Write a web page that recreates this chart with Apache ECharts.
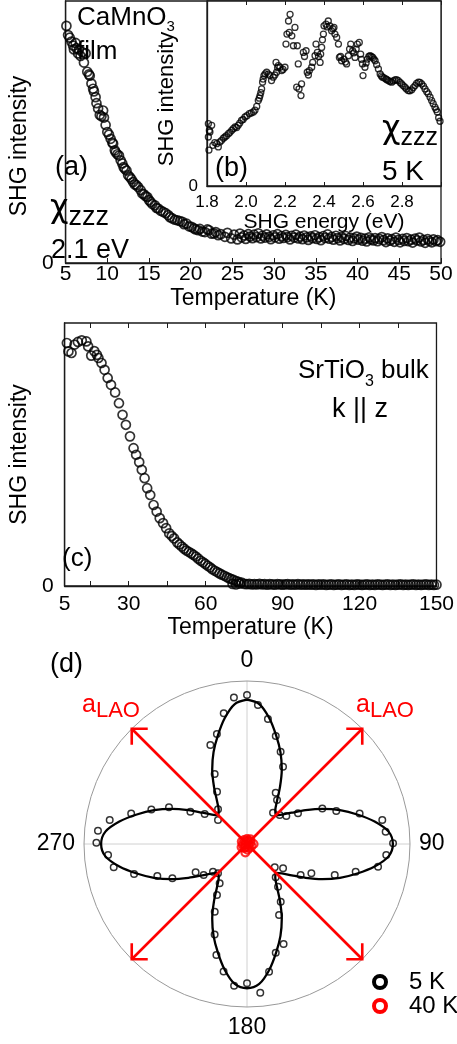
<!DOCTYPE html>
<html>
<head>
<meta charset="utf-8">
<script src="https://cdn.jsdelivr.net/npm/echarts@6.0.0/dist/echarts.min.js"></script>
<style>html,body{margin:0;padding:0;background:#fff}#c{width:457px;height:1044px}</style>
</head>
<body>
<div id="c"></div>
<script>
// ---------- DATA ----------
// (a) CaMnO3 film, SHG intensity vs temperature (K)
const aData = [
[5.1,0.905],[5.3,0.87],[5.5,0.86],[5.7,0.845],[5.9,0.83],[6.0,0.815],[6.2,0.84],[6.3,0.82],[6.5,0.80],[6.6,0.815],
[6.8,0.79],[7.0,0.805],[7.2,0.765],[7.4,0.80],[7.6,0.73],[7.8,0.72],[7.9,0.715],[8.1,0.685],[8.3,0.665],[8.4,0.655],
[8.6,0.633],[8.7,0.61],[8.9,0.59],[9.1,0.565],[9.3,0.56],[9.5,0.582],[9.6,0.555],[9.8,0.527],[10.0,0.50],[10.2,0.49],
[10.4,0.474],[10.6,0.46],[10.7,0.455],[10.9,0.43],[11.0,0.423],[11.2,0.415],[11.4,0.41],[11.6,0.392],[11.8,0.38],[11.95,0.366],
[12.1,0.36],[12.3,0.353],[12.5,0.335],[12.7,0.328],[12.9,0.32],[13.1,0.309],[13.3,0.30],[13.5,0.297],[13.7,0.29],[14.0,0.278],
[14.2,0.265],[14.4,0.262],[14.6,0.255],[14.8,0.252],[15.0,0.24],[15.2,0.233],[15.4,0.225],[15.7,0.22],[15.9,0.21],[16.1,0.208],
[16.4,0.20],[16.7,0.195],[17.0,0.19],[17.3,0.183],[17.5,0.175],[17.8,0.17],[18.1,0.165],[18.4,0.163],[18.7,0.16],[19.0,0.157],
[19.2,0.148],[19.5,0.15],[19.8,0.14],[20.1,0.138],[20.4,0.132],[20.6,0.128],[20.9,0.125],[21.1,0.13],[21.4,0.12],[21.7,0.118],
[22.0,0.128],[22.2,0.125],[22.5,0.112],[22.8,0.113],[23.0,0.118],[23.3,0.106],[23.6,0.11],[24.1,0.10],[24.4,0.115],[24.85,0.094],
[25.2,0.108],[25.6,0.09],[25.9,0.112],[26.1,0.098],[26.4,0.105],[26.6,0.092],[26.9,0.110],[27.1,0.101],[27.4,0.095],[27.6,0.108],
[27.9,0.099],[28.1,0.113],[28.4,0.094],[28.6,0.104],[28.9,0.097],[29.1,0.109],[29.4,0.100],[29.6,0.091],[29.9,0.106],[30.1,0.098],
[30.4,0.110],[30.6,0.093],[30.9,0.103],[31.1,0.096],[31.4,0.107],[31.6,0.099],[31.9,0.090],[32.1,0.104],[32.4,0.097],[32.6,0.108],
[32.9,0.094],[33.1,0.101],[33.4,0.091],[33.6,0.105],[33.9,0.098],[34.1,0.088],[34.4,0.102],[34.6,0.095],[34.9,0.106],[35.1,0.092],
[35.4,0.099],[35.6,0.087],[35.9,0.103],[36.1,0.096],[36.4,0.109],[36.6,0.093],[36.9,0.100],[37.1,0.089],[37.4,0.104],[37.6,0.095],
[37.9,0.086],[38.1,0.099],[38.4,0.092],[38.6,0.103],[38.9,0.088],[39.1,0.097],[39.4,0.084],[39.6,0.094],[39.9,0.101],[40.1,0.089],
[40.4,0.096],[40.6,0.085],[40.9,0.093],[41.1,0.082],[41.4,0.098],[41.6,0.090],[41.9,0.086],[42.1,0.095],[42.4,0.083],[42.6,0.092],
[42.9,0.099],[43.1,0.087],[43.4,0.080],[43.6,0.094],[43.9,0.085],[44.1,0.091],[44.4,0.081],[44.6,0.097],[44.9,0.088],[45.1,0.079],
[45.4,0.092],[45.6,0.084],[45.9,0.095],[46.1,0.083],[46.4,0.089],[46.6,0.078],[46.9,0.093],[47.1,0.086],[47.4,0.097],[47.6,0.082],
[47.9,0.088],[48.1,0.077],[48.4,0.091],[48.6,0.084],[48.9,0.079],[49.1,0.090],[49.4,0.083],[49.6,0.087],[49.9,0.081]
];
// (b) inset, SHG intensity vs SHG energy (eV) at 5 K
const bData = [
[1.807,0.337],[1.812,0.30],[1.807,0.265],[1.815,0.292],[1.824,0.328],[1.81,0.194],[1.83,0.22],[1.84,0.235],[1.85,0.229],[1.858,0.211],
[1.866,0.238],[1.875,0.247],[1.884,0.258],[1.892,0.265],[1.90,0.272],[1.91,0.283],[1.918,0.29],[1.927,0.301],[1.935,0.31],[1.944,0.319],
[1.952,0.316],[1.96,0.328],[1.968,0.34],[1.977,0.355],[1.985,0.36],[1.995,0.373],[2.005,0.38],[2.017,0.391],[2.027,0.395],[2.038,0.40],
[2.046,0.41],[2.055,0.43],[2.063,0.462],[2.068,0.475],[2.072,0.489],[2.076,0.505],[2.08,0.525],[2.085,0.561],[2.088,0.578],[2.092,0.597],
[2.098,0.606],[2.106,0.615],[2.115,0.605],[2.123,0.597],[2.131,0.57],[2.14,0.588],[2.148,0.60],[2.154,0.668],[2.157,0.615],[2.162,0.64],
[2.166,0.651],[2.174,0.642],[2.183,0.624],[2.19,0.63],[2.2,0.642],[2.205,0.767],[2.21,0.821],[2.218,0.892],[2.222,0.83],[2.226,0.928],
[2.235,0.812],[2.243,0.758],[2.251,0.857],[2.263,0.758],[2.268,0.66],[2.26,0.534],[2.272,0.525],[2.282,0.489],[2.285,0.552],[2.294,0.722],
[2.30,0.70],[2.308,0.731],[2.314,0.615],[2.32,0.60],[2.325,0.624],[2.337,0.642],[2.342,0.668],[2.354,0.704],[2.359,0.767],[2.366,0.722],
[2.372,0.70],[2.38,0.668],[2.383,0.713],[2.388,0.749],[2.392,0.79],[2.397,0.821],[2.40,0.866],[2.41,0.875],[2.416,0.86],[2.422,0.892],
[2.43,0.866],[2.439,0.839],[2.445,0.85],[2.451,0.857],[2.456,0.821],[2.465,0.803],[2.474,0.767],[2.479,0.695],[2.485,0.70],[2.49,0.677],
[2.502,0.686],[2.51,0.67],[2.516,0.66],[2.525,0.704],[2.531,0.74],[2.537,0.767],[2.547,0.731],[2.553,0.72],[2.559,0.695],[2.565,0.74],
[2.571,0.767],[2.581,0.776],[2.588,0.713],[2.592,0.685],[2.597,0.66],[2.60,0.597],[2.61,0.642],[2.616,0.665],[2.622,0.686],[2.63,0.70],
[2.636,0.704],[2.643,0.70],[2.65,0.695],[2.656,0.686],[2.662,0.677],[2.67,0.656],[2.679,0.633],[2.688,0.606],[2.694,0.595],[2.70,0.588],
[2.708,0.585],[2.717,0.579],[2.723,0.575],[2.73,0.57],[2.738,0.565],[2.747,0.561],[2.755,0.568],[2.764,0.573],[2.772,0.575],[2.781,0.57],
[2.79,0.56],[2.798,0.552],[2.806,0.543],[2.815,0.534],[2.823,0.525],[2.832,0.516],[2.84,0.515],[2.85,0.52],[2.858,0.532],[2.867,0.543],
[2.875,0.555],[2.884,0.561],[2.892,0.56],[2.901,0.552],[2.91,0.54],[2.918,0.525],[2.927,0.51],[2.935,0.498],[2.944,0.48],[2.952,0.462],
[2.96,0.445],[2.969,0.426],[2.975,0.413],[2.981,0.40],[2.988,0.369],[2.995,0.35]
];
// (c) SrTiO3 bulk, SHG intensity vs temperature (K)
const cData = [
[5.9,0.924],[6.5,0.892],[7.7,0.886],[8.9,0.918],[10.2,0.928],[11.7,0.934],[13.5,0.930],[14.2,0.911],[15.4,0.876],[16.6,0.893],
[17.6,0.879],[18.2,0.867],[19.4,0.848],[20.6,0.822],[21.8,0.791],[23.1,0.765],[24.7,0.736],[26.2,0.695],[27.6,0.651],[28.9,0.613],
[30.5,0.569],[31.9,0.524],[32.9,0.499],[34.1,0.471],[35.1,0.442],[36.2,0.41],[37.2,0.372],[38.4,0.346],[39.7,0.308],[40.9,0.283],
[42.1,0.258],[43.4,0.239],[44.6,0.22],[45.8,0.2],[46.8,0.19],[47.7,0.181],[48.9,0.166],[49.8,0.158],[50.7,0.15],[51.6,0.142],
[52.5,0.135],[53.4,0.13],[54.4,0.124],[55.3,0.118],[56.2,0.112],[57.1,0.104],[58.1,0.096],[59.0,0.09],[59.9,0.084],[60.8,0.077],
[61.7,0.071],[62.6,0.064],[63.6,0.058],[64.5,0.053],[65.4,0.048],[66.3,0.043],[67.3,0.039],[68.2,0.034],[69.1,0.03],[70.0,0.026],
[70.9,0.023],[71.9,0.019],[72.8,0.016],[74.0,0.013],[70.5,0.008],[71.8,0.006],[73.2,0.009],
[75,0.008],[76,0.007],[77,0.008],[78,0.006],[79,0.007],[80,0.006],[81,0.008],[82,0.006],[83,0.007],[84,0.005],
[85,0.007],[86,0.006],[87,0.005],[88,0.007],[89,0.006],[90,0.005],[91,0.006],[92,0.007],[93,0.005],[94,0.006],
[95,0.005],[96,0.007],[97,0.005],[98,0.006],[99,0.005],[100,0.006],[101,0.005],[102,0.006],[103,0.004],[104,0.006],
[105,0.005],[106,0.006],[107,0.004],[108,0.005],[109,0.006],[110,0.004],[111,0.005],[112,0.006],[113,0.004],[114,0.005],
[115,0.006],[116,0.004],[117,0.005],[118,0.004],[119,0.006],[120,0.005],[121,0.004],[122,0.005],[123,0.006],[124,0.004],
[125,0.005],[126,0.004],[127,0.006],[128,0.005],[129,0.004],[130,0.005],[131,0.006],[132,0.004],[133,0.005],[134,0.004],
[135,0.005],[136,0.006],[137,0.004],[138,0.005],[139,0.004],[140,0.005],[141,0.006],[142,0.004],[143,0.005],[144,0.004],
[145,0.005],[146,0.006],[147,0.004],[148,0.005],[149,0.004],[150,0.005]
];
const cTickValues = [15,30,45,60,75,90,105,120,135,150];
const cLabelValues = [5,30,60,90,120,150];

// (d) polar: angle (deg) and normalized SHG for fit curve and 5 K / 40 K points
const fitAngles = [0,5,10,15,20,25,30,35,40,45,50,55,60,65,70,75,80,85,90,95,100,105,110,115,120,125,130,135,140,145,150,155,160,165,170,175,
180,185,190,195,200,205,210,215,220,225,230,235,240,245,250,255,260,265,270,275,280,285,290,295,300,305,310,315,320,325,330,335,340,345,350,355,360];
const fitR = [0.885,0.862,0.785,0.69,0.60,0.505,0.405,0.32,0.27,0.25,0.28,0.335,0.415,0.51,0.607,0.70,0.795,0.872,0.895,0.872,0.795,0.70,0.607,0.51,0.415,0.335,0.28,0.25,0.27,0.32,0.405,0.505,0.60,0.69,0.785,0.862,
0.885,0.862,0.785,0.69,0.60,0.505,0.405,0.32,0.27,0.25,0.28,0.335,0.415,0.51,0.607,0.70,0.795,0.872,0.895,0.872,0.795,0.70,0.607,0.51,0.415,0.335,0.28,0.25,0.27,0.32,0.405,0.505,0.60,0.69,0.785,0.862,0.885];
const d5K = [
[0.914,0],[0.903,354.9],[0.855,4.5],[0.814,349.9],[0.778,9.5],[0.70,344.7],[0.686,14.9],[0.648,339.7],[0.603,20.0],[0.523,25.0],
[0.473,335.2],[0.37,330.2],[0.361,29.2],[0.327,34.3],[0.277,320.1],[0.25,39.7],
[0.268,48.4],[0.296,54.6],[0.365,59],[0.511,64.7],[0.584,69.7],[0.716,74.8],[0.843,79.9],[0.854,84.9],[0.896,89.7],[0.857,94.5],
[0.816,99.8],[0.688,104.3],[0.571,109.5],[0.434,114.5],[0.38,120],[0.267,124],[0.222,130],
[0.27,139.3],[0.324,144],[0.41,149.7],[0.478,155.7],[0.653,159.9],[0.69,165.2],[0.795,170.2],[0.855,180],[0.873,185.2],[0.916,174.9],
[0.796,190.4],[0.707,195.4],[0.589,199.7],[0.46,205.5],[0.363,210.5],[0.294,214.8],[0.253,224.7],
[0.269,230.9],[0.327,234.4],[0.36,241.1],[0.504,245.3],[0.584,250.4],[0.717,255.1],[0.83,260.1],[0.855,265.5],[0.924,270.5],[0.918,275.1],
[0.855,279.9],[0.735,284.8],[0.624,289.9],[0.529,295.2],[0.40,299.7],[0.318,305.3],[0.231,309.6]
];
const d40K = [
[0.03,0],[0.02,20],[0.035,35],[0.025,60],[0.04,90],[0.03,115],[0.028,150],[0.035,175],[0.052,191],[0.02,200],
[0.03,215],[0.038,240],[0.025,265],[0.035,295],[0.03,325],[0.015,340],[0.01,100],[0.012,250]
];
const arrowDirs = [45,135,225,315];
const angleLabels = [0,90,180,270];

// ---------- CHART ----------
const FONT = '"Liberation Sans", Arial, sans-serif';
const chart = echarts.init(document.getElementById('c'), null, {renderer:'canvas'});
const axisCol = '#1a1a1a';
const onlyZero = v => (v === 0 ? '0' : '');

function txt(x, y, text, size, color, rich){
  const st = {text: text, font: size + 'px ' + FONT, fill: color || '#000', align:'left', verticalAlign:'middle'};
  if (rich) st.rich = rich;
  return {type:'text', x:x, y:y, z:100, style: st};
}
const sub = (size, pad) => ({font: size + 'px ' + FONT, padding:[pad,0,0,0], verticalAlign:'middle'});
const chiStyle = size => ({font: size + 'px "DejaVu Sans", ' + FONT, verticalAlign:'middle'});

const option = {
  animation: false,
  textStyle: {fontFamily: FONT},
  grid: [
    {left:46, top:1, width:395, height:262, show:true, borderColor:axisCol, borderWidth:1.3, backgroundColor:'transparent'},
    {left:207, top:1, width:234, height:185, show:true, borderColor:axisCol, borderWidth:1.3, backgroundColor:'#fff'},
    {left:46, top:323, width:395, height:263, show:true, borderColor:axisCol, borderWidth:1.3, backgroundColor:'transparent'}
  ],
  xAxis: [
    {gridIndex:0, type:'value', min:5, max:50, interval:5,
     axisLine:{lineStyle:{color:axisCol, width:1.3}}, axisTick:{inside:true, length:5, lineStyle:{color:axisCol}},
     axisLabel:{fontSize:21, color:'#000', margin:1}, splitLine:{show:false},
     name:'Temperature (K)', nameLocation:'middle', nameGap:24, nameTextStyle:{fontSize:23, color:'#000'}},
    {gridIndex:1, type:'value', min:1.8, max:3.0, interval:0.2,
     axisLine:{lineStyle:{color:axisCol, width:1.3}}, axisTick:{inside:true, length:4, lineStyle:{color:axisCol}},
     axisLabel:{fontSize:17, color:'#000', margin:8, formatter: v => (Math.abs(v-3) < 1e-6 ? '' : v.toFixed(1))},
     splitLine:{show:false},
     name:'SHG energy (eV)', nameLocation:'middle', nameGap:22, nameTextStyle:{fontSize:21, color:'#000'}},
    {gridIndex:1, type:'value', position:'top', min:1.8, max:3.0, interval:0.2,
     axisLine:{show:false}, axisTick:{inside:true, length:4, lineStyle:{color:axisCol}},
     axisLabel:{show:false}, splitLine:{show:false}},
    {gridIndex:2, type:'value', min:5, max:150,
     axisLine:{lineStyle:{color:axisCol, width:1.3}},
     axisTick:{inside:true, length:5, customValues:cTickValues, lineStyle:{color:axisCol}},
     axisLabel:{fontSize:21, color:'#000', margin:8, customValues:cLabelValues}, splitLine:{show:false},
     name:'Temperature (K)', nameLocation:'middle', nameGap:26, nameTextStyle:{fontSize:23, color:'#000'}},
    {gridIndex:2, type:'value', position:'top', min:5, max:150,
     axisLine:{show:false},
     axisTick:{inside:true, length:5, customValues:cTickValues, lineStyle:{color:axisCol}},
     axisLabel:{show:false}, splitLine:{show:false}}
  ],
  yAxis: [
    {gridIndex:0, type:'value', min:0, max:1, interval:1,
     axisLine:{lineStyle:{color:axisCol, width:1.3}}, axisTick:{show:false},
     axisLabel:{fontSize:21, color:'#000', margin:12, formatter:onlyZero}, splitLine:{show:false},
     name:'SHG intensity', nameLocation:'middle', nameRotate:90, nameGap:10,
     nameTextStyle:{fontSize:23, color:'#000', padding:[0,28,0,0]}},
    {gridIndex:1, type:'value', min:0, max:1, interval:1,
     axisLine:{lineStyle:{color:axisCol, width:1.3}}, axisTick:{show:false},
     axisLabel:{fontSize:17, color:'#000', margin:9, formatter:onlyZero}, splitLine:{show:false},
     name:'SHG intensity', nameLocation:'middle', nameRotate:90, nameGap:8,
     nameTextStyle:{fontSize:22, color:'#000', padding:[0,11,0,0]}},
    {gridIndex:2, type:'value', min:0, max:1, interval:1,
     axisLine:{lineStyle:{color:axisCol, width:1.3}}, axisTick:{show:false},
     axisLabel:{fontSize:21, color:'#000', margin:11, formatter:onlyZero}, splitLine:{show:false},
     name:'SHG intensity', nameLocation:'middle', nameRotate:90, nameGap:10,
     nameTextStyle:{fontSize:23, color:'#000'}}
  ],
  polar: {center:[247, 844], radius:163},
  angleAxis: {type:'value', min:0, max:360, interval:90, startAngle:90, clockwise:true,
    axisLine:{lineStyle:{color:'#999', width:1}}, axisTick:{show:false},
    axisLabel:{fontSize:23, color:'#000', margin:9, formatter: v => (angleLabels.indexOf(v) >= 0 ? String(v) : '')},
    splitLine:{show:true, lineStyle:{color:'#d0d0d0', width:1}}},
  radiusAxis: {type:'value', min:0, max:1, axisLine:{show:false}, axisLabel:{show:false}, axisTick:{show:false}, splitLine:{show:false}},
  legend: {orient:'vertical', left:367, top:965, itemWidth:12, itemHeight:12, itemGap:0,
    textStyle:{fontSize:24, color:'#000', padding:[0,0,0,18]},
    data:[
      {name:'5 K', icon:'circle', itemStyle:{color:'#fff', borderColor:'#000', borderWidth:4, opacity:1}},
      {name:'40 K', icon:'circle', itemStyle:{color:'#fff', borderColor:'#ff0000', borderWidth:4, opacity:1}}
    ]},
  graphic: {elements: [
    txt(77, 17.5, 'CaMnO{s|3}', 26, '#000', {s: sub(15, 19)}),
    txt(77, 52, 'film', 26),
    txt(55, 168, '(a)', 27),
    txt(50, 209, '{c|χ}{z|zzz}', 32, '#000', {c: chiStyle(32), z: sub(27, 18)}),
    txt(51, 250.5, '2.1 eV', 27),
    txt(215, 168.5, '(b)', 27),
    txt(382, 130, '{c|χ}{z|zzz}', 32, '#000', {c: chiStyle(32), z: sub(25, 17)}),
    txt(382, 172, '5 K', 28),
    txt(298, 371, 'SrTiO{s|3} bulk', 26, '#000', {s: sub(16, 21)}),
    txt(332, 410, 'k || z', 27),
    txt(62, 559, '(c)', 26),
    txt(50, 665, '(d)', 27),
    txt(82, 705, '{a|a}{s|LAO}', 25, '#ff0000', {a:{font:'25px ' + FONT, verticalAlign:'middle'}, s: sub(22, 11)}),
    txt(356, 705, '{a|a}{s|LAO}', 25, '#ff0000', {a:{font:'25px ' + FONT, verticalAlign:'middle'}, s: sub(22, 11)})
  ]},
  series: [
    {type:'scatter', xAxisIndex:0, yAxisIndex:0, data:aData, symbol:'circle', symbolSize:9,
     itemStyle:{color:'transparent', borderColor:'#000', borderWidth:1.7}, z:3},
    {type:'scatter', xAxisIndex:1, yAxisIndex:1, data:bData, symbol:'circle', symbolSize:6,
     itemStyle:{color:'transparent', borderColor:'#000', borderWidth:1.3}, z:3},
    {type:'scatter', xAxisIndex:3, yAxisIndex:2, data:cData, symbol:'circle', symbolSize:9,
     itemStyle:{color:'transparent', borderColor:'#000', borderWidth:1.7}, z:3},
    {type:'line', name:'fit', coordinateSystem:'polar', data: fitAngles.map((a,i) => [fitR[i], a]),
     showSymbol:false, smooth:0.3, lineStyle:{color:'#000', width:2.3}, z:2, silent:true},
    {type:'scatter', name:'5 K', coordinateSystem:'polar', data:d5K, symbol:'circle', symbolSize:6.5,
     itemStyle:{color:'transparent', borderColor:'#000', borderWidth:1.5}, z:3},
    {type:'custom', name:'arrows', coordinateSystem:'polar', data: arrowDirs.map(a => [1, a]), z:4,
     renderItem: function(params, api){
       const r = api.value(0), ang = api.value(1);
       const c = api.coord([0, ang]);
       const p = api.coord([r, ang]);
       const dx = p[0]-c[0], dy = p[1]-c[1], L = Math.hypot(dx, dy);
       const bx = -dx/L, by = -dy/L, h = 16, th = Math.PI/4;
       const w1 = [p[0] + h*(bx*Math.cos(th) - by*Math.sin(th)), p[1] + h*(bx*Math.sin(th) + by*Math.cos(th))];
       const w2 = [p[0] + h*(bx*Math.cos(-th) - by*Math.sin(-th)), p[1] + h*(bx*Math.sin(-th) + by*Math.cos(-th))];
       return {type:'group', children:[
         {type:'line', shape:{x1:c[0], y1:c[1], x2:p[0], y2:p[1]}, style:{stroke:'#ff0000', lineWidth:2.6}},
         {type:'polyline', shape:{points:[w1, p, w2]}, style:{stroke:'#ff0000', lineWidth:2.6, fill:null}}
       ]};
     }},
    {type:'scatter', name:'40 K', coordinateSystem:'polar', data:d40K, symbol:'circle', symbolSize:8,
     itemStyle:{color:'transparent', borderColor:'#ff0000', borderWidth:2.2}, z:5}
  ]
};
chart.setOption(option);
</script>
</body>
</html>
